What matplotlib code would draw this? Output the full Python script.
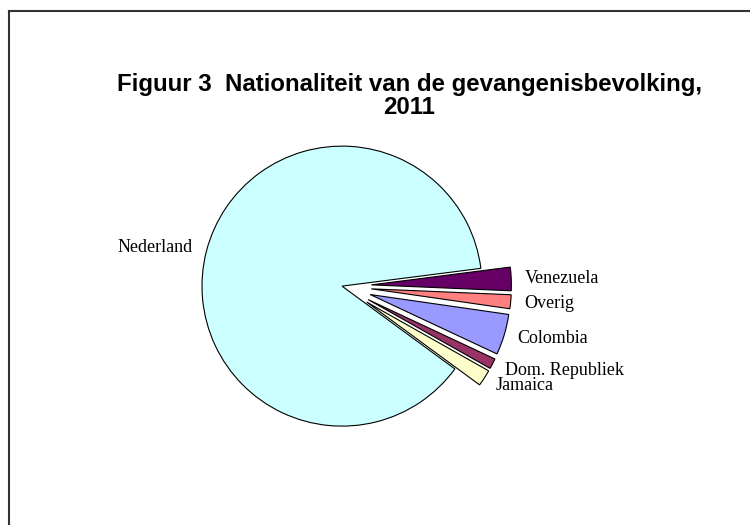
import matplotlib
matplotlib.use("Agg")
import matplotlib.pyplot as plt
from matplotlib.lines import Line2D

### data (percent of prison population)
labels = ['Venezuela', 'Overig', 'Colombia', 'Dom. Republiek', 'Jamaica', 'Nederland']
shares = [2.7, 1.6, 4.7, 1.2, 1.9, 87.9]
colors = ['#660066', '#FF8080', '#9999FF', '#993366', '#FFFFCC', '#CCFFFF']
explode = [0.21, 0.21, 0.21, 0.21, 0.21, 0.0]

fig = plt.figure(figsize=(7.5, 5.25), dpi=100)

### pie
ax = fig.add_axes([0.176, 0.055, 0.56, 0.8])
wedges, texts = ax.pie(shares, labels=labels, colors=colors, explode=explode,
                       startangle=7.3, counterclock=False, labeldistance=1.1,
                       wedgeprops=dict(edgecolor='black', linewidth=0.8),
                       textprops=dict(family='Liberation Serif', fontsize=13))
ax.set_xlim(-1.5, 1.5)
ax.set_ylim(-1.5, 1.5)
ax.set_aspect('equal')
ax.axis('off')

### title
fig.text(0.546, 1 - 96 / 525, 'Figuur 3  Nationaliteit van de gevangenisbevolking,\n2011',
         ha='center', va='center', fontsize=17.3, fontweight='bold',
         family='Liberation Sans', linespacing=1.0)

### chart border (only top and left edge are inside the picture)
fig.add_artist(Line2D([9 / 750, 9 / 750], [0, 1 - 11 / 525], color='#333333', lw=1.5))
fig.add_artist(Line2D([9 / 750, 1], [1 - 11 / 525, 1 - 11 / 525], color='#333333', lw=1.5))

fig.savefig('out.png', dpi=100)
